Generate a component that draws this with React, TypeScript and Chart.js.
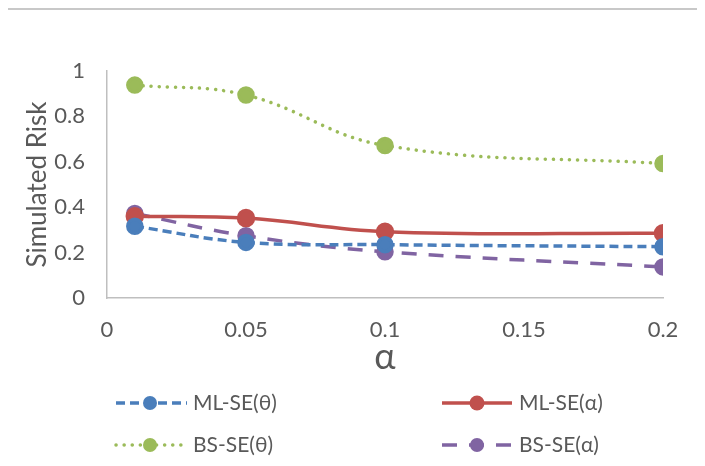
import React, { useEffect, useRef } from "react";
import { Chart, registerables } from "chart.js";

Chart.register(...registerables);

const alphaValues = [0.01, 0.05, 0.1, 0.2];
const mlSeTheta = [0.316, 0.245, 0.235, 0.226];
const mlSeAlpha = [0.36, 0.352, 0.292, 0.285];
const bsSeTheta = [0.938, 0.894, 0.672, 0.592];
const bsSeAlpha = [0.372, 0.274, 0.204, 0.137];
const seriesNames = ["ML-SE(θ)", "ML-SE(α)", "BS-SE(θ)", "BS-SE(α)"];
const xTicks = [0, 0.05, 0.1, 0.15, 0.2];
const yTicks = [0, 0.2, 0.4, 0.6, 0.8, 1];

const FONT = "Lato, 'Open Sans', sans-serif";
const TEXT = "#595959";

const legendPlugin = {
  id: "customLegend",
  afterDraw(chart: any) {
    const ctx = chart.ctx;
    const cols = [
      { x0: 108, x1: 179, m: 142, t: 185 },
      { x0: 434, x1: 504, m: 469, t: 511 },
    ];
    const rows = [393, 435];
    chart.data.datasets.forEach((ds: any, i: number) => {
      const c = cols[i % 2];
      const y = rows[Math.floor(i / 2)];
      ctx.save();
      ctx.strokeStyle = ds.borderColor;
      ctx.lineWidth = ds.borderWidth;
      ctx.lineCap = ds.borderCapStyle || "butt";
      ctx.setLineDash(ds.borderDash || []);
      ctx.beginPath();
      ctx.moveTo(c.x0, y);
      ctx.lineTo(c.x1, y);
      ctx.stroke();
      ctx.setLineDash([]);
      ctx.fillStyle = ds.pointBackgroundColor;
      ctx.beginPath();
      ctx.arc(c.m, y, ds.pointRadius, 0, Math.PI * 2);
      ctx.fill();
      ctx.fillStyle = TEXT;
      ctx.font = `21px ${FONT}`;
      ctx.textBaseline = "middle";
      ctx.textAlign = "left";
      ctx.fillText(ds.label, c.t, y);
      ctx.restore();
    });
  },
};

export default function App() {
  const ref = useRef<HTMLCanvasElement>(null);
  useEffect(() => {
    if (!ref.current) return;
    const mk = (vals: number[]) => alphaValues.map((x, i) => ({ x, y: vals[i] }));
    const chart = new Chart(ref.current, {
      type: "line",
      data: {
        datasets: [
          {
            label: seriesNames[0],
            data: mk(mlSeTheta),
            borderColor: "#4A7EBB",
            pointBackgroundColor: "#4A7EBB",
            pointBorderColor: "#4A7EBB",
            borderWidth: 3.5,
            borderDash: [9, 5],
            pointRadius: 7,
            tension: 0.4,
          },
          {
            label: seriesNames[1],
            data: mk(mlSeAlpha),
            borderColor: "#C0504D",
            pointBackgroundColor: "#C0504D",
            pointBorderColor: "#C0504D",
            borderWidth: 3.5,
            pointRadius: 7.5,
            tension: 0.4,
          },
          {
            label: seriesNames[2],
            data: mk(bsSeTheta),
            borderColor: "#9BBB59",
            pointBackgroundColor: "#9BBB59",
            pointBorderColor: "#9BBB59",
            borderWidth: 3.5,
            borderDash: [0.1, 8],
            borderCapStyle: "round",
            pointRadius: 7,
            tension: 0.4,
          },
          {
            label: seriesNames[3],
            data: mk(bsSeAlpha),
            borderColor: "#8064A2",
            pointBackgroundColor: "#8064A2",
            pointBorderColor: "#8064A2",
            borderWidth: 3.5,
            borderDash: [15, 12],
            pointRadius: 7,
            tension: 0.4,
          },
        ] as any,
      },
      plugins: [legendPlugin],
      options: {
        animation: false,
        responsive: false,
        events: [],
        layout: { padding: { left: 14.4, top: 61, right: 38, bottom: 91.4 } },
        plugins: { legend: { display: false }, tooltip: { enabled: false } },
        scales: {
          x: {
            type: "linear",
            min: 0,
            max: 0.2,
            afterBuildTicks: (s: any) => {
              s.ticks = xTicks.map((v) => ({ value: v }));
            },
            afterFit: (s: any) => {
              s.height = 80.6;
            },
            grid: { display: false, drawTicks: false },
            border: { display: true, color: "#BFBFBF", width: 1.5 },
            ticks: {
              padding: 18.8,
              color: TEXT,
              font: { family: FONT, size: 22 },
              maxRotation: 0,
              autoSkip: false,
              callback: (v: any) => String(v),
            },
            title: {
              display: true,
              text: "α",
              color: TEXT,
              font: { family: FONT, size: 36 },
              padding: 0,
            },
          },
          y: {
            min: 0,
            max: 1,
            afterBuildTicks: (s: any) => {
              s.ticks = yTicks.map((v) => ({ value: v }));
            },
            afterFit: (s: any) => {
              s.width = 84.6;
            },
            grid: { display: false, drawTicks: false },
            border: { display: true, color: "#BFBFBF", width: 1.5 },
            ticks: {
              padding: 22,
              color: TEXT,
              font: { family: FONT, size: 22 },
              callback: (v: any) => String(v),
            },
            title: {
              display: true,
              text: "Simulated Risk",
              color: TEXT,
              font: { family: FONT, size: 26 },
              padding: 0,
            },
          },
        },
      } as any,
    });
    return () => chart.destroy();
  }, []);
  return (
    <div
      style={{
        marginLeft: -2,
        width: 693,
        height: 460,
        border: "2px solid #C8C8C8",
        background: "#fff",
      }}
    >
      <canvas ref={ref} width={693} height={460} style={{ display: "block" }} />
    </div>
  );
}
